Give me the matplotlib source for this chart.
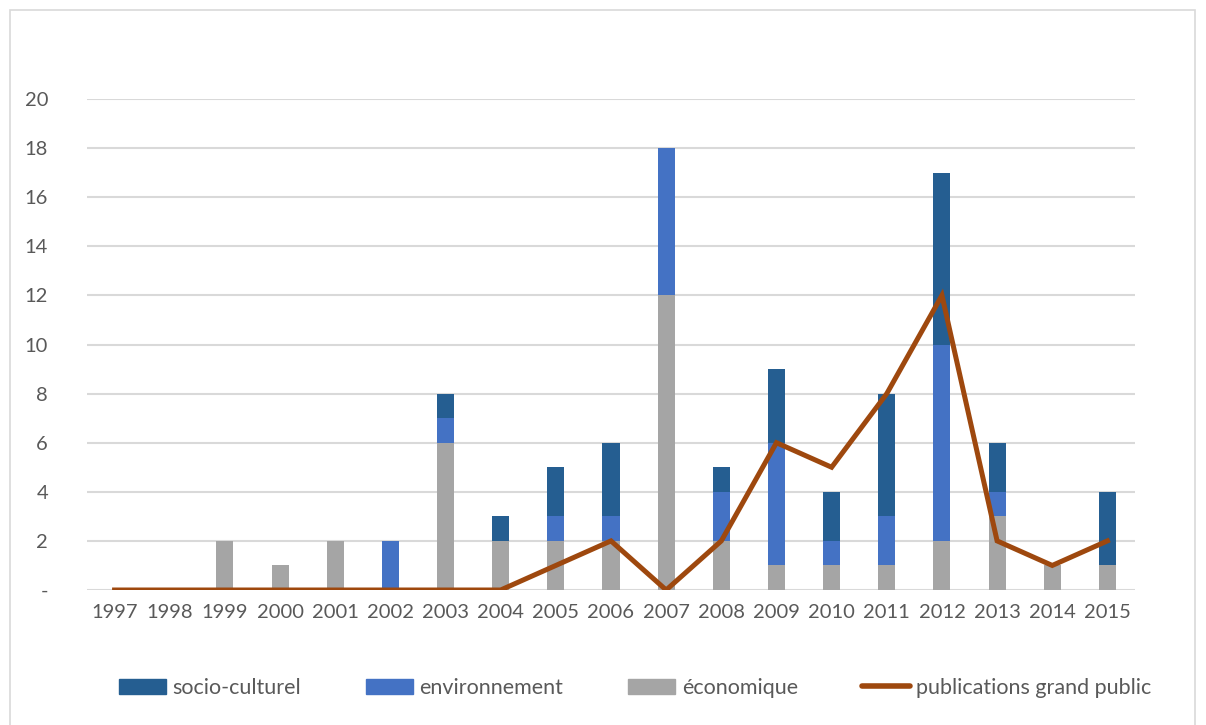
import matplotlib.pyplot as plt
from matplotlib.patches import Rectangle
from matplotlib.lines import Line2D
import numpy as np

years = [str(y) for y in range(1997, 2016)]
economique = [0, 0, 2, 1, 2, 0, 6, 2, 2, 2, 12, 2, 1, 1, 1, 2, 3, 1, 1]
environnement = [0, 0, 0, 0, 0, 2, 1, 0, 1, 1, 6, 2, 5, 1, 2, 8, 1, 0, 0]
socio_culturel = [0, 0, 0, 0, 0, 0, 1, 1, 2, 3, 0, 1, 3, 2, 5, 7, 2, 0, 3]
publications = [0, 0, 0, 0, 0, 0, 0, 0, 1, 2, 0, 2, 6, 5, 8, 12, 2, 1, 2]
yticks = [0, 2, 4, 6, 8, 10, 12, 14, 16, 18, 20]
ytick_labels = ['-'] + [str(v) for v in yticks[1:]]

c_soc = '#255E91'; c_env = '#4472C4'; c_eco = '#A5A5A5'; c_line = '#9E480E'
txt = '#595959'
plt.rcParams['font.family'] = ['Lato', 'DejaVu Sans']
fs = 14.5

fig = plt.figure(figsize=(12.06, 7.25), dpi=100)
fig.patches.append(Rectangle((10/1206, -0.01), 1185/1206, 1.0 - 10/725 + 0.01,
                             transform=fig.transFigure, fill=False,
                             edgecolor='#D9D9D9', linewidth=1.2))

ax = fig.add_axes([87/1206, 1 - 590/725, (1135 - 87)/1206, (590 - 99)/725])
x = np.arange(len(years))
eco = np.array(economique); env = np.array(environnement); soc = np.array(socio_culturel)
w = 0.31
ax.bar(x, eco, w, color=c_eco, zorder=2)
ax.bar(x, env, w, bottom=eco, color=c_env, zorder=2)
ax.bar(x, soc, w, bottom=eco + env, color=c_soc, zorder=2)
ax.plot(x, publications, color=c_line, linewidth=3.6, zorder=3, solid_joinstyle='miter')

ax.set_xlim(-0.5, len(years) - 0.5)
ax.set_ylim(0, 20)
ax.set_yticks(yticks)
ax.set_yticklabels(ytick_labels)
ax.set_xticks(x)
ax.set_xticklabels(years)
ax.yaxis.grid(True, color='#D9D9D9', linewidth=1.5, zorder=0)
ax.set_axisbelow(True)
for s in ax.spines.values():
    s.set_visible(False)
ax.tick_params(axis='both', length=0, labelsize=fs, colors=txt)
ax.tick_params(axis='y', pad=28)
ax.tick_params(axis='x', pad=10)

handles = [Rectangle((0, 0), 1, 1, color=c_soc), Rectangle((0, 0), 1, 1, color=c_env),
           Rectangle((0, 0), 1, 1, color=c_eco),
           Line2D([0], [0], color=c_line, linewidth=4, solid_capstyle='round')]
labels = ['socio-culturel', 'environnement', 'économique', 'publications grand public']
fig.legend(handles, labels, loc='center', bbox_to_anchor=(635/1206, 1 - 688/725), ncol=4,
           frameon=False, fontsize=15.5, labelcolor=txt, handlelength=2.2,
           handleheight=0.75, handletextpad=0.3, columnspacing=3.0)

fig.savefig('out.png', dpi=100)
